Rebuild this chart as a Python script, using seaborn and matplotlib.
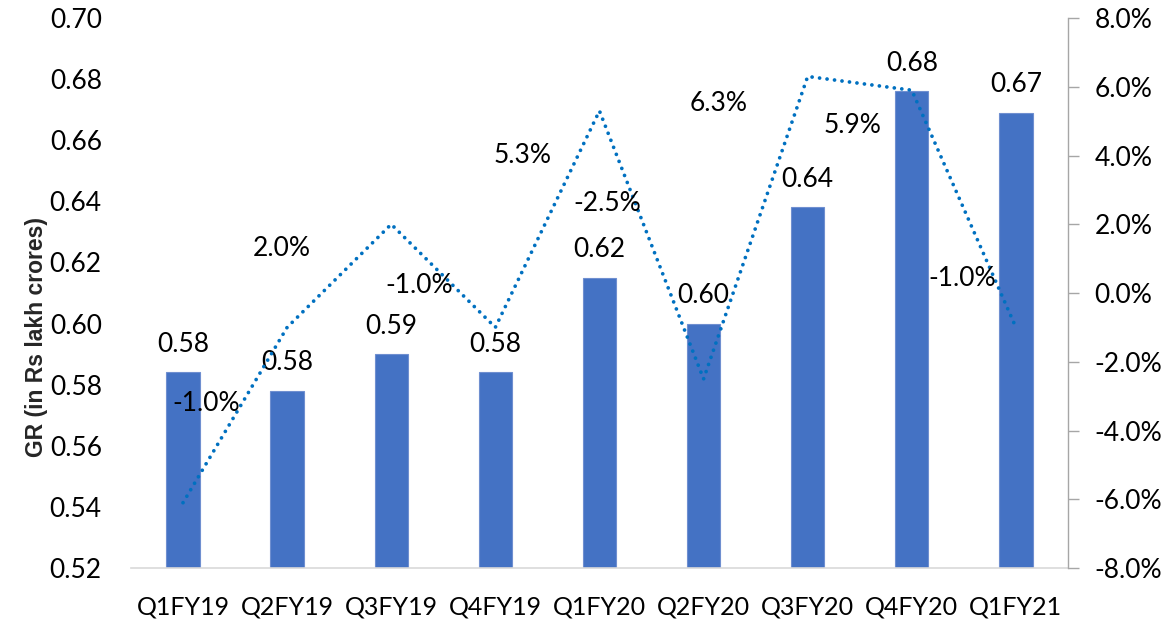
import matplotlib
matplotlib.use("Agg")
import matplotlib.pyplot as plt
import seaborn as sns
import pandas as pd
from matplotlib.ticker import FuncFormatter, MultipleLocator

quarters = ["Q1FY19", "Q2FY19", "Q3FY19", "Q4FY19", "Q1FY20",
            "Q2FY20", "Q3FY20", "Q4FY20", "Q1FY21"]
gr_values = [0.584, 0.578, 0.590, 0.584, 0.615, 0.600, 0.638, 0.676, 0.669]
growth_pct = [-6.1, -1.0, 2.0, -1.0, 5.3, -2.5, 6.3, 5.9, -1.0]
bar_labels = ["0.58", "0.58", "0.59", "0.58", "0.62", "0.60", "0.64", "0.68", "0.67"]
growth_labels = ["", "-1.0%", "2.0%", "-1.0%", "5.3%", "-2.5%", "6.3%", "5.9%", "-1.0%"]
# label offsets in pixels (dx, dy) relative to each line point
growth_label_offsets = [(0, 0), (-81, -76), (-109, -24), (-76, 42), (-77, -45),
                        (-96, 175), (-89, -27), (-59, -35), (-54, 49)]

sns.set_theme(style="white")
plt.rcParams["font.family"] = ["Lato", "DejaVu Sans"]

FS = 19

df = pd.DataFrame({"quarter": quarters, "gr": gr_values, "growth": growth_pct})

fig = plt.figure(figsize=(11.65, 6.22), dpi=100)
ax = fig.add_axes([0.1124, 0.0868, 0.8043, 0.8842])

sns.barplot(data=df, x="quarter", y="gr", ax=ax, color="#4472C4",
            saturation=1, width=0.32, edgecolor="#6F8FD0", linewidth=0.8)
ax.set_ylim(0.52, 0.70)
ax.yaxis.set_major_locator(MultipleLocator(0.02))
ax.yaxis.set_major_formatter(FuncFormatter(lambda v, p: f"{v:.2f}"))
ax.set_xlim(-0.5, len(quarters) - 0.5)
ax.set_xlabel("")
ax.set_ylabel("GR (in Rs lakh crores)", fontsize=16.5, fontweight="bold",
              family=["Liberation Sans", "DejaVu Sans"])
ax.yaxis.set_label_coords(-0.089, 0.42)
ax.tick_params(axis="y", labelsize=FS, length=0, pad=21, colors="black")
ax.tick_params(axis="x", labelsize=18, length=0, pad=20, colors="black")
for s in ["left", "top", "right"]:
    ax.spines[s].set_visible(False)
ax.spines["bottom"].set_color("#D9D9D9")
ax.spines["bottom"].set_linewidth(1.2)

for i, (v, lab) in enumerate(zip(gr_values, bar_labels)):
    ax.annotate(lab, xy=(i, v), xytext=(0, 28), textcoords="offset pixels",
                ha="center", va="center", fontsize=FS, color="black")

ax2 = ax.twinx()
sns.lineplot(x=list(range(len(quarters))), y=growth_pct, ax=ax2, color="#0070C0",
             linewidth=2.7, linestyle=(0, (0.01, 2.0)), dash_capstyle="round",
             solid_capstyle="round")
ax2.set_ylim(-8, 8)
ax2.yaxis.set_major_locator(MultipleLocator(2))
ax2.yaxis.set_major_formatter(FuncFormatter(lambda v, p: f"{v:.1f}%"))
ax2.tick_params(axis="y", labelsize=FS, length=8, width=1, color="#A6A6A6",
                direction="out", pad=11, labelcolor="black")
for s in ["left", "top", "bottom"]:
    ax2.spines[s].set_visible(False)
ax2.spines["right"].set_color("#A6A6A6")
ax2.spines["right"].set_linewidth(1.0)
ax2.set_ylabel("")

for i, (v, lab, off) in enumerate(zip(growth_pct, growth_labels, growth_label_offsets)):
    if lab:
        ax2.annotate(lab, xy=(i, v), xytext=off, textcoords="offset pixels",
                     ha="center", va="center", fontsize=FS, color="black")

fig.savefig("out.png", dpi=100)
